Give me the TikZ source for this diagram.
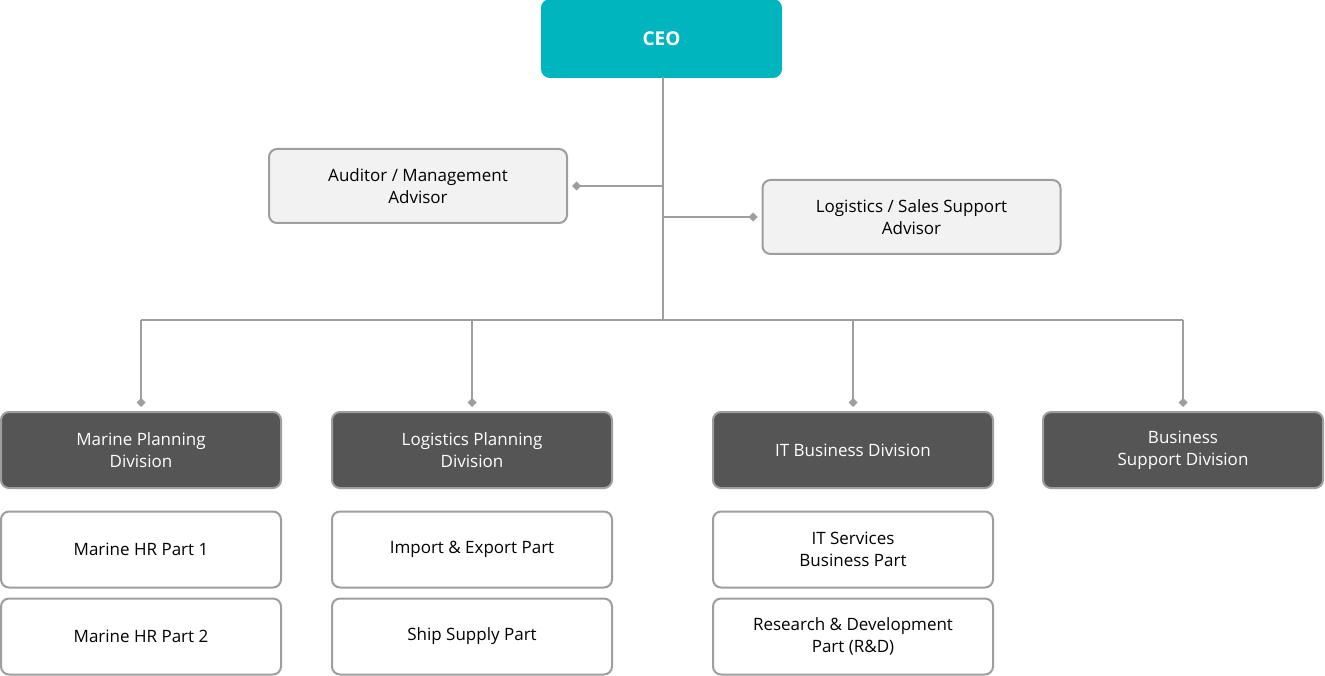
\documentclass[tikz,border=0pt]{standalone}
\usepackage{fontspec}
\setmainfont{Open Sans}
\usetikzlibrary{positioning,arrows.meta}
\definecolor{teal}{HTML}{00B5BD}
\definecolor{dark}{HTML}{555555}
\definecolor{edge}{HTML}{9E9E9E}
\definecolor{light}{HTML}{F2F2F2}
\tikzset{
  box/.style={draw=edge, line width=2pt, rounded corners=8pt, minimum width=280pt, minimum height=76pt, align=center, font=\fontsize{17}{22}\selectfont, inner sep=0pt},
  advisor/.style={box, fill=light, minimum width=298pt, minimum height=74pt},
  division/.style={box, fill=dark, text=white},
  partbox/.style={box, fill=white},
  link/.style={edge, line width=2pt, -{Diamond[length=9pt,width=9pt]}, shorten >=4pt}
}
\begin{document}
\begin{tikzpicture}[x=1pt,y=-1pt]
    \useasboundingbox (0,0) rectangle (1325,676);
    \node[box, fill=teal, draw=teal, text=white, minimum width=239pt, minimum height=77pt, font=\fontsize{19}{22}\selectfont\bfseries] (ceo) at (661.5,38.5) {CEO};
    \node[advisor] (auditor) at (418,186) {Auditor / Management\\Advisor};
    \node[advisor] (logadv) at (911.5,217) {Logistics / Sales Support\\Advisor};

    \node[division] (marine) at (141,450) {Marine Planning\\Division};
    \node[division] (logdiv) at (472,450) {Logistics Planning\\Division};
    \node[division] (itdiv) at (853,450) {IT Business Division};
    \node[division] (bsdiv) at (1183,450) {Business\\Support Division};

    \node[partbox] (hr1) at (141,549.5) {Marine HR Part 1};
    \node[partbox] (hr2) at (141,636.5) {Marine HR Part 2};
    \node[partbox] (impexp) at (472,549.5) {Import \& Export Part};
    \node[partbox] (ship) at (472,636.5) {Ship Supply Part};
    \node[partbox] (itsvc) at (853,549.5) {IT Services\\Business Part};
    \node[partbox] (rnd) at (853,636.5) {Research \& Development\\Part (R\&D)};

    % connectors
    \coordinate (bus) at (663,320);
    \draw[edge, line width=2pt] (663,77) -- (bus);
    \draw[link] (663,186) -- (auditor.east);
    \draw[link] (663,217) -- (logadv.west);
    \draw[edge, line width=2pt] (141,320) -- (1183,320);
    \foreach \d in {marine,logdiv,itdiv,bsdiv}
        \draw[link] (\d.north |- bus) -- (\d.north);
\end{tikzpicture}
\end{document}
